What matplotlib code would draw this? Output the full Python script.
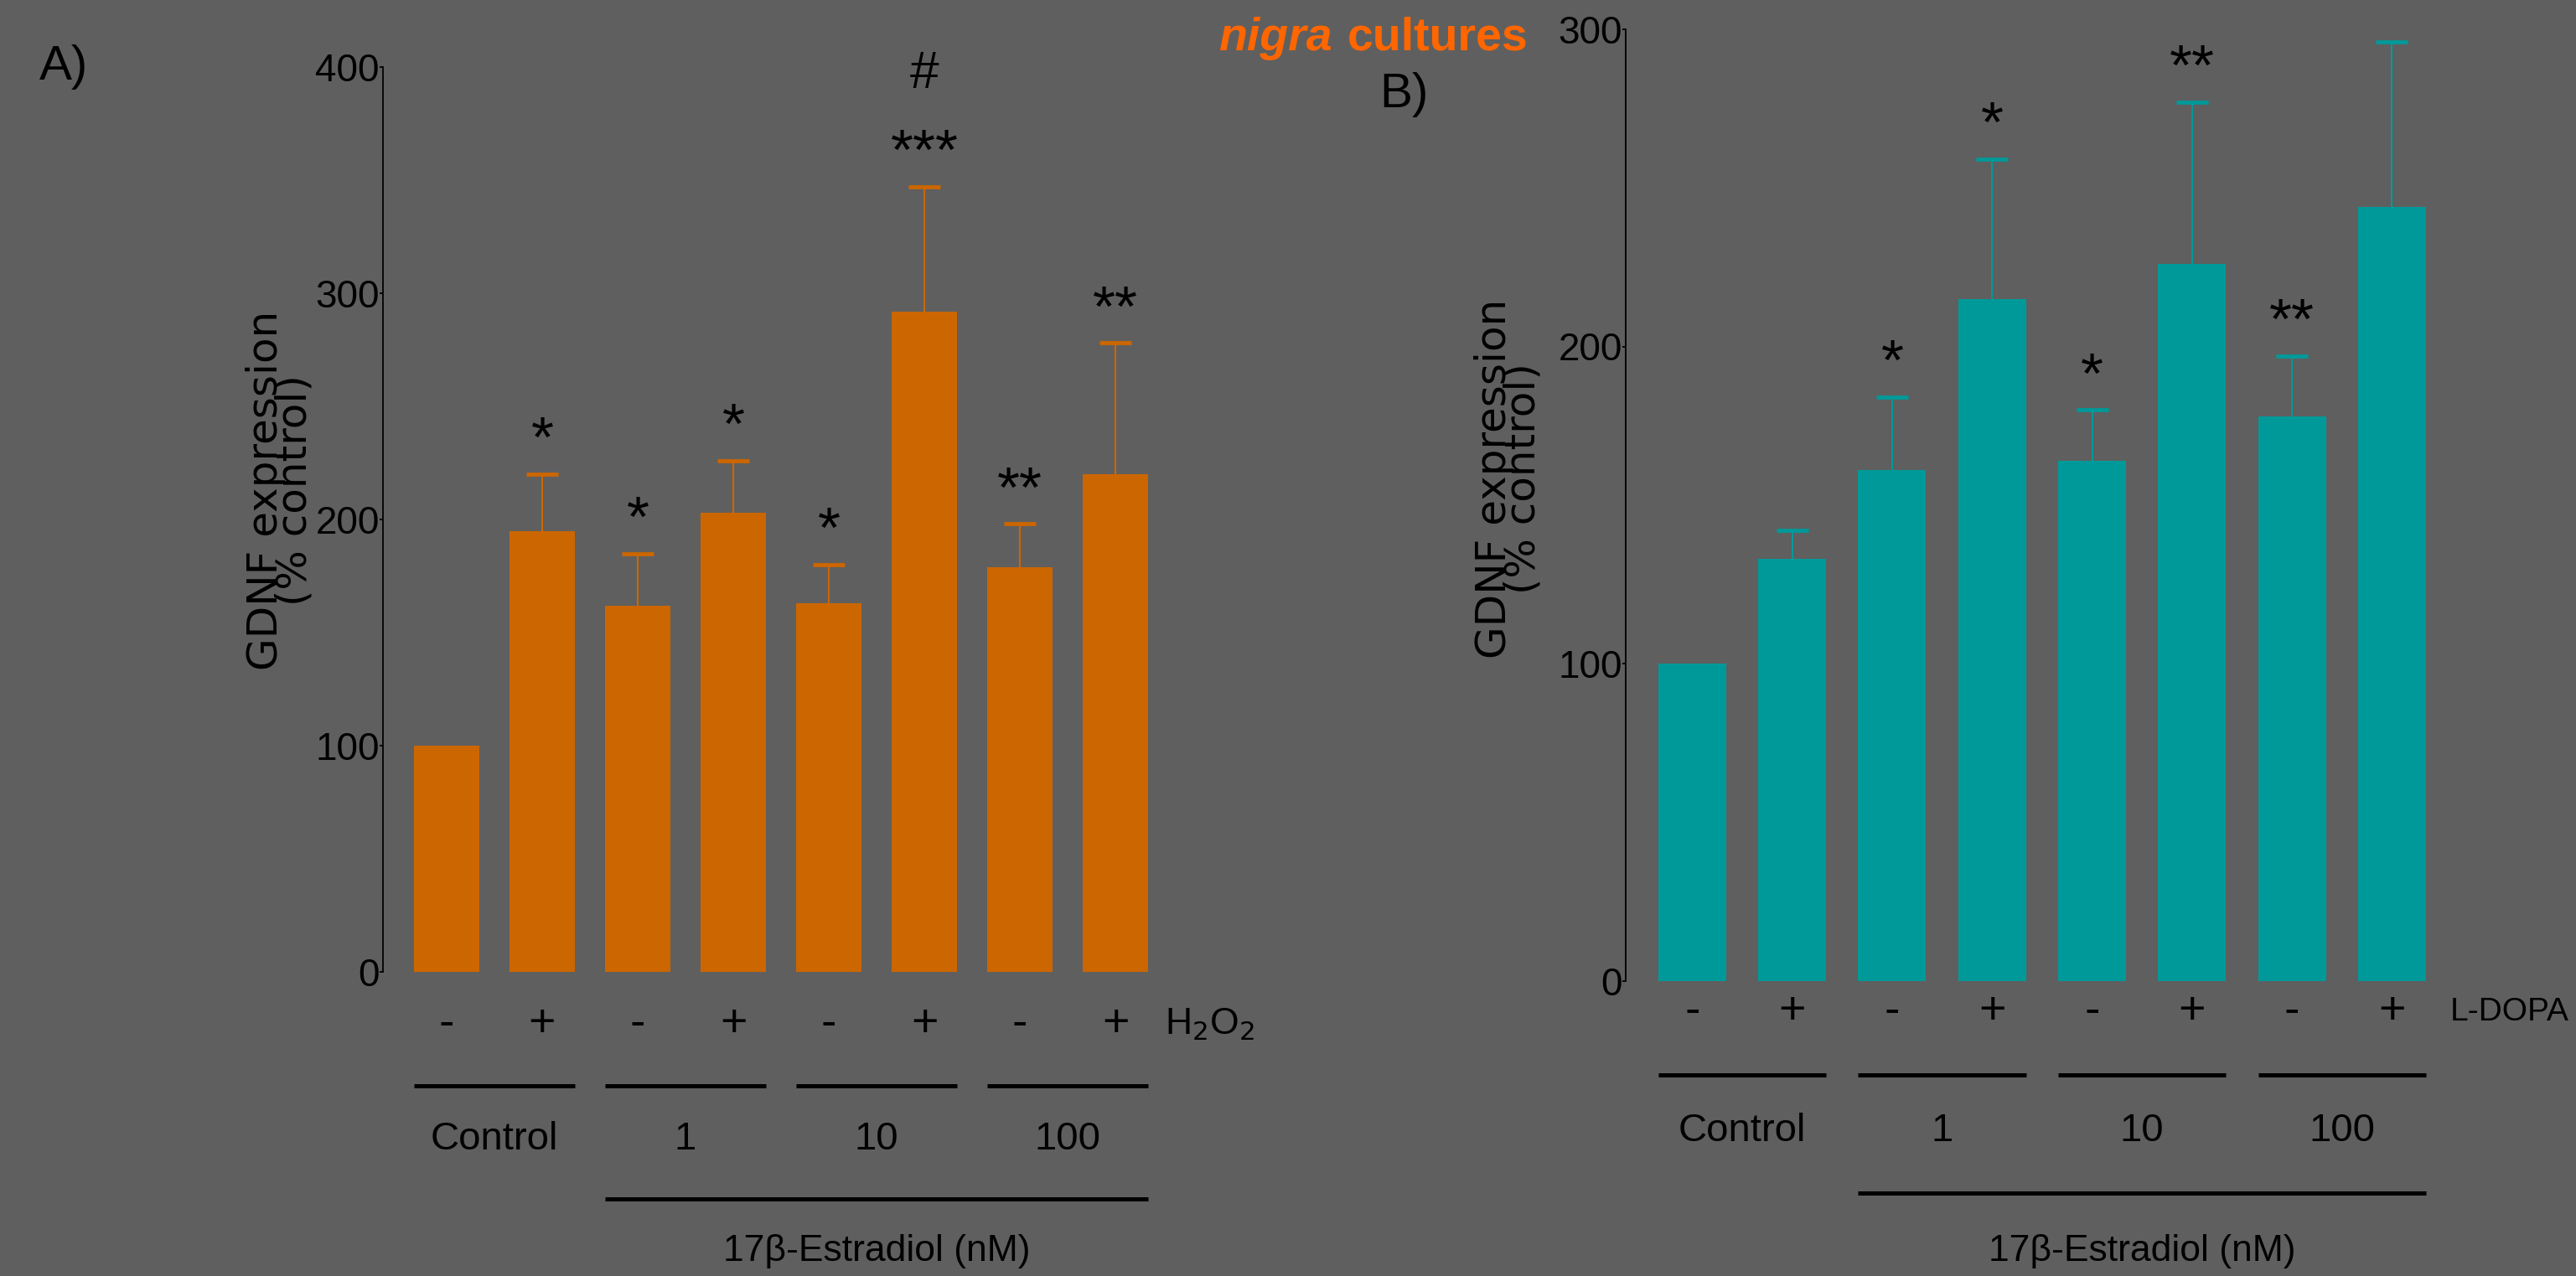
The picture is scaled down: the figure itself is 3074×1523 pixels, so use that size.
import matplotlib
matplotlib.use("Agg")
import matplotlib.pyplot as plt
from matplotlib.transforms import blended_transform_factory
from matplotlib.lines import Line2D

# --- data ---
h2o2 = ['-', '+', '-', '+', '-', '+', '-', '+']
groups = ['Control', '1', '10', '100']

gdnf_a = [100, 195, 162, 203, 163, 292, 179, 220]
err_a = [0, 25, 23, 23, 17, 55, 19, 58]
sig_a = ['', '*', '*', '*', '*', '***', '**', '**']
hash_a = ['', '', '', '', '', '#', '', '']

gdnf_b = [100, 133, 161, 215, 164, 226, 178, 244]
err_b = [0, 9, 23, 44, 16, 51, 19, 52]
sig_b = ['', '', '*', '*', '*', '**', '**', '']

BG = '#5f5f5f'
W, H = 3074, 1523
SANS = ['Liberation Sans', 'DejaVu Sans']

fig = plt.figure(figsize=(W / 100, H / 100), dpi=100, facecolor=BG)


def fy(px):
    # pixel row from top -> figure fraction
    return 1 - px / H


def fx(px):
    return px / W


def panel(rect, vals, errs, sigs, color, ymax, yticks, row_px, line_px, lab_px,
          long_px, est_px, treat, treat_x, treat_fs, hashes=None):
    ax = fig.add_axes(rect)
    ax.set_facecolor(BG)
    x = list(range(len(vals)))
    ax.bar(x, vals, width=0.68, color=color, zorder=2)
    ex = [i for i in x if errs[i] > 0]
    tops = [vals[i] + errs[i] for i in ex]
    ax.vlines(ex, [vals[i] for i in ex], tops, color=color, lw=1.5, zorder=1)
    ax.plot(ex, tops, ls='none', marker='_', ms=28, mew=3.5, color=color, zorder=1)
    ax.set_xlim(-0.665, 7.55)
    ax.set_ylim(0, ymax)
    ax.set_yticks(yticks)
    ax.set_yticklabels([str(t) for t in yticks], family=SANS, fontsize=33)
    ax.set_xticks([])
    for s in ['top', 'right', 'bottom']:
        ax.spines[s].set_visible(False)
    ax.spines['left'].set_linewidth(1.3)
    ax.spines['left'].set_color('black')
    ax.tick_params(axis='y', length=3, width=1.3, pad=0, colors='black')

    # significance marks
    for i in x:
        top = vals[i] + errs[i]
        if sigs[i]:
            ax.annotate(sigs[i], xy=(i, top), xytext=(0, 15), textcoords='offset points',
                        ha='center', va='baseline', fontsize=50, family=SANS)
        if hashes and hashes[i]:
            ax.annotate(hashes[i], xy=(i, top), xytext=(0, 85), textcoords='offset points',
                        ha='center', va='baseline', fontsize=45, family=SANS)

    tr = blended_transform_factory(ax.transData, fig.transFigure)
    for i, s in enumerate(h2o2):
        ax.text(i, fy(row_px), s, transform=tr, ha='center', va='center',
                fontsize=40, family=SANS, clip_on=False)
    ax.text(fx(treat_x), fy(row_px), treat, transform=fig.transFigure, ha='left',
            va='center', fontsize=treat_fs, family=SANS)
    for g, name in enumerate(groups):
        a, b = 2 * g - 0.34, 2 * g + 1.34
        fig.add_artist(Line2D([a, b], [fy(line_px), fy(line_px)], transform=tr,
                              color='black', lw=3.6, solid_capstyle='butt'))
        ax.text(2 * g + 0.5, fy(lab_px), name, transform=tr, ha='center', va='center',
                fontsize=34, family=SANS, clip_on=False)
    fig.add_artist(Line2D([2 - 0.34, 7.34], [fy(long_px), fy(long_px)], transform=tr,
                          color='black', lw=3.6, solid_capstyle='butt'))
    ax.text(4.5, fy(est_px), '17\u03b2-Estradiol (nM)', transform=tr, ha='center',
            va='center', fontsize=32, family=SANS, clip_on=False)
    return ax


ax_a = panel([fx(457), fy(1160), fx(937), 1080 / H], gdnf_a, err_a, sig_a, '#cc6600',
             400, [0, 100, 200, 300, 400], 1223, 1296, 1360, 1431, 1493,
             'H$_2$O$_2$', 1390, 32, hashes=hash_a)
ax_b = panel([fx(1940), fy(1170.5), fx(980), 1135.5 / H], gdnf_b, err_b, sig_b, '#009999',
             300, [0, 100, 200, 300], 1208, 1283, 1350, 1424, 1493,
             'L-DOPA', 2924, 28)

# y-axis titles (two tight rotated lines)
for xc, yc in [(334, 585), (1800, 571)]:
    fig.text(fx(xc), fy(yc), 'GDNF expression\n(% control)', rotation=90, ha='center',
             va='center', ma='center', fontsize=36, family='DejaVu Sans', linespacing=0.65)

# panel letters
fig.text(fx(47), fy(80), 'A)', ha='left', va='center', fontsize=42, family=SANS)
fig.text(fx(1646), fy(113), 'B)', ha='left', va='center', fontsize=42, family=SANS)

# partial title at top
fig.text(fx(1590), fy(60), 'nigra', ha='right', va='baseline', fontsize=40,
         family=SANS, weight='bold', style='italic', color='#ff6600')
fig.text(fx(1608), fy(60), 'cultures', ha='left', va='baseline', fontsize=40,
         family=SANS, weight='bold', color='#ff6600')

fig.savefig('out.png', dpi=100, facecolor=BG)
